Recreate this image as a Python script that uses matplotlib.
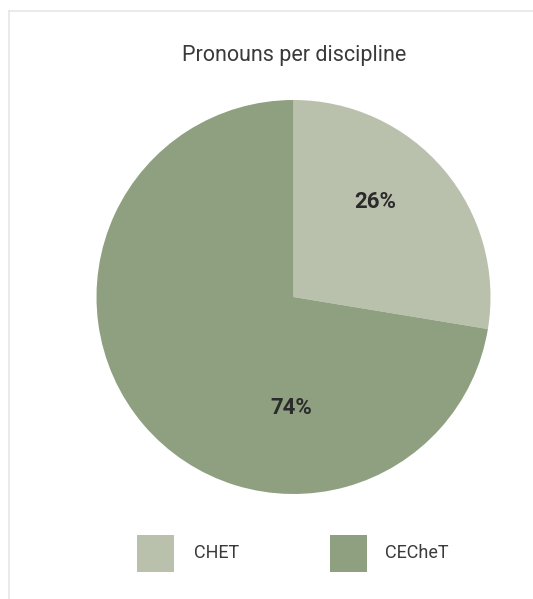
import matplotlib
matplotlib.use("Agg")
import matplotlib.pyplot as plt
from matplotlib.lines import Line2D

# Data
categories = ["CHET", "CECheT"]
values = [27.6, 72.4]          # slice sizes as drawn
pct_labels = ["26%", "74%"]     # labels as printed on the chart
colors = ["#b9c1ad", "#8ea07f"]
title = "Pronouns per discipline"

W, H = 533, 599
fig = plt.figure(figsize=(W / 100, H / 100), dpi=100)
fig.patch.set_facecolor("white")

# light frame on left and top
border_col = "#e6e6e2"
fig.add_artist(Line2D([8.5 / W, 8.5 / W], [0, 1 - 10.5 / H], color=border_col, lw=1.2,
                      transform=fig.transFigure))
fig.add_artist(Line2D([8.5 / W, 1], [1 - 10.5 / H, 1 - 10.5 / H], color=border_col, lw=1.2,
                      transform=fig.transFigure))

cx, cy, r = 293.5, 297, 197
ax = fig.add_axes([(cx - r) / W, 1 - (cy + r) / H, 2 * r / W, 2 * r / H])
ax.pie(values, colors=colors, startangle=90, counterclock=False, radius=1,
       wedgeprops=dict(linewidth=0))
ax.set_xlim(-1, 1)
ax.set_ylim(-1, 1)
ax.set_aspect("equal")
ax.axis("off")

# percentage labels (pixel offsets from pie centre converted to axes fraction)
label_px = [(375, 202), (291, 408)]
for (px, py), t in zip(label_px, pct_labels):
    ax.text(0.5 + (px - cx) / (2 * r), 0.5 - (py - cy) / (2 * r), t,
            transform=ax.transAxes, ha="center", va="center",
            fontsize=16, fontweight="bold", color="#2b2b2b", family="Roboto")

fig.text(294 / W, 1 - 55 / H, title, ha="center", va="center", fontsize=15.5,
         color="#3a3a3a", family="Roboto")

# legend
sq = 37
leg_y = 553
leg_items = [(137, 194), (330, 385)]
for (sx, tx), c, name in zip(leg_items, colors, categories):
    fig.add_artist(plt.Rectangle((sx / W, 1 - (leg_y + sq / 2) / H), sq / W, sq / H,
                                 transform=fig.transFigure, facecolor=c, edgecolor="none"))
    fig.text(tx / W, 1 - leg_y / H, name, ha="left", va="center", fontsize=13,
             color="#3a3a3a", family="Roboto")

fig.savefig("out.png", dpi=100, facecolor="white")
